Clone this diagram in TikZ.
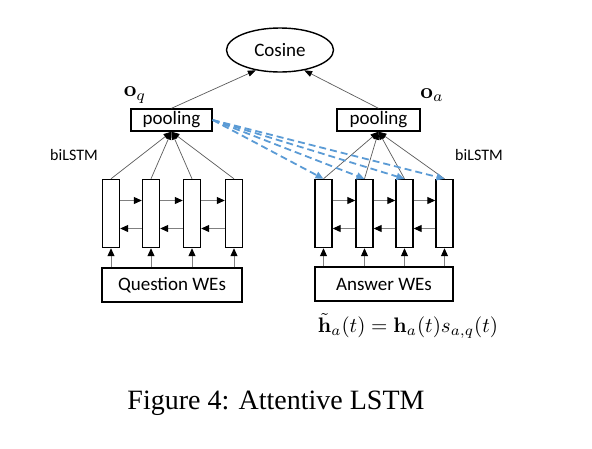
\documentclass[tikz,border=0pt]{standalone}
\usepackage{amsmath}
\usepackage[no-math]{fontspec}
\setmainfont{Carlito}
\newfontfamily\capfont{Liberation Serif}
\usetikzlibrary{arrows.meta,shapes.geometric}
\definecolor{attblue}{RGB}{91,155,213}
\definecolor{lgray}{RGB}{90,90,90}
\tikzset{
  boxnode/.style={draw=black,line width=1.4pt,rectangle,inner sep=0pt,font=\fontsize{19}{22}\selectfont},
  cellnode/.style={draw=black,line width=1.4pt,rectangle,inner sep=0pt,minimum width=17pt,minimum height=68pt},
  conn/.style={draw=lgray,line width=0.7pt,-{Triangle[length=8pt,width=6pt,color=black]}},
  upconn/.style={draw=gray,line width=1pt,-{Triangle[length=8pt,width=7pt,color=black]}},
  attn/.style={draw=attblue,line width=1.8pt,dash pattern=on 7pt off 4pt,-{Triangle[length=8pt,width=7pt,color=attblue]}},
  lbl/.style={inner sep=0pt,font=\fontsize{16}{19}\selectfont},
  mathlbl/.style={inner sep=0pt,font=\fontsize{10}{12}\selectfont},
}
\begin{document}
\begin{tikzpicture}[x=1pt,y=-1pt]
\useasboundingbox (0,0) rectangle (592,448);
% top
\node[ellipse,draw=black,line width=1.4pt,minimum width=107pt,minimum height=44pt,inner sep=0pt,font=\fontsize{19}{22}\selectfont] (cos) at (280,50) {Cosine};
\node[boxnode,minimum width=81pt,minimum height=22pt] (pq) at (171.5,120) {pooling};
\node[boxnode,minimum width=83pt,minimum height=22pt] (pa) at (378.5,120) {pooling};
\node[mathlbl,scale=2.2] (oq) at (135,95) {$\mathbf{o}_q$};
\node[mathlbl,scale=2.2] (oa) at (432,95) {$\mathbf{o}_a$};
\node[lbl] (bl) at (74,155) {biLSTM};
\node[lbl] (br) at (479,155) {biLSTM};
% cells
\node[cellnode] (q1) at (111,213.5) {};
\node[cellnode] (q2) at (151,213.5) {};
\node[cellnode] (q3) at (192,213.5) {};
\node[cellnode] (q4) at (234,213.5) {};
\node[cellnode] (a1) at (323.5,213.5) {};
\node[cellnode] (a2) at (364.5,213.5) {};
\node[cellnode] (a3) at (404.5,213.5) {};
\node[cellnode] (a4) at (444.5,213.5) {};
% WEs
\node[boxnode,minimum width=140pt,minimum height=34pt] (qwe) at (172,285) {Question WEs};
\node[boxnode,minimum width=138pt,minimum height=34pt] (awe) at (384,284) {Answer WEs};
% formula and caption
\node[mathlbl,scale=2.1] (eq) at (408,326) {$\tilde{\mathbf{h}}_a(t)=\mathbf{h}_a(t)s_{a,q}(t)$};
\node[inner sep=0pt,font=\capfont\fontsize{28}{32}\selectfont] (cap) at (276,403) {Figure 4: Attentive LSTM};
% connectors to cosine
\draw[conn] (pq.north) -- (cos.220);
\draw[conn] (pa.north) -- (cos.-40);
% cells to pooling
\foreach \c in {q1,q2,q3,q4} \draw[conn] (\c.north) -- (pq.south);
\foreach \c in {a1,a2,a3,a4} \draw[conn] (\c.north) -- (pa.south);
% WEs to cells
\foreach \c in {q1,q2,q3,q4} \draw[upconn] (\c |- qwe.north) -- (\c.south);
\foreach \c in {a1,a2,a3,a4} \draw[upconn] (\c |- awe.north) -- (\c.south);
% horizontal
\foreach \a/\b in {q1/q2,q2/q3,q3/q4,a1/a2,a2/a3,a3/a4}{
  \draw[upconn] ([yshift=13pt]\a.east) -- ([yshift=13pt]\b.west);
  \draw[upconn] ([yshift=-15pt]\b.west) -- ([yshift=-15pt]\a.east);
}
% attention
\foreach \c in {a1,a2,a3,a4} \draw[attn] (pq.east) -- (\c.north);
\end{tikzpicture}
\end{document}
